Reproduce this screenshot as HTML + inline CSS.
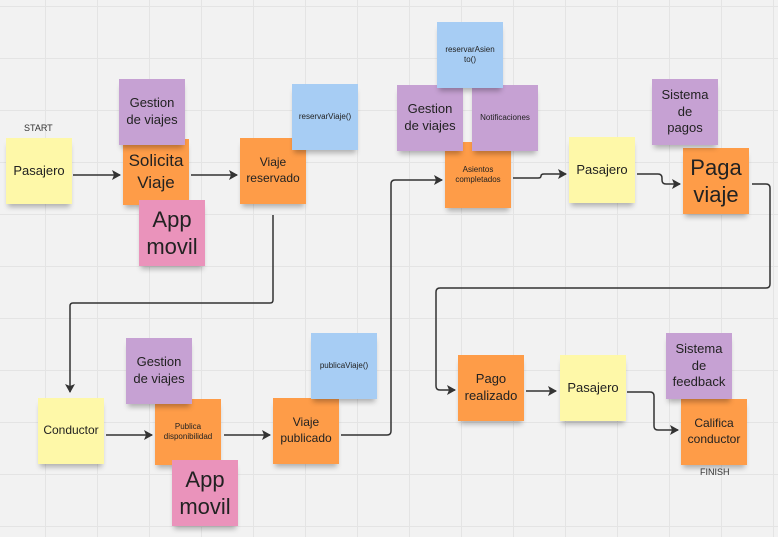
<!DOCTYPE html>
<html><head><meta charset="utf-8"><style>
html,body{margin:0;padding:0}
body{width:778px;height:537px;position:relative;overflow:hidden;background-color:#f2f2f2;
background-image:linear-gradient(#e4e4e4 1px,transparent 1px),linear-gradient(90deg,#e4e4e4 1px,transparent 1px);
background-size:52px 52px;background-position:45px 6px;font-family:"Liberation Sans",sans-serif;color:#222}
.n{position:absolute;width:66px;height:66px;display:flex;align-items:center;justify-content:center;text-align:center;box-shadow:0 5px 5px -2px rgba(0,0,0,0.28);line-height:1.3;font-size:12px}
.y{background:#fef8a8}.o{background:#fe9c48}.p{background:#c6a1d3}.k{background:#ea93bb}.b{background:#a7cdf4}
.s{font-size:8px}.xl{font-size:22px;line-height:1.25}.l{font-size:17px;line-height:1.3}.m{font-size:13px}
.t{position:absolute;font-size:9px;color:#333}
svg{position:absolute;left:0;top:0}
</style></head><body>
<svg width="778" height="537">
<defs><marker id="a" markerWidth="10" markerHeight="10" refX="8" refY="5" orient="auto" markerUnits="userSpaceOnUse"><path d="M0,0 L9,5 L0,10 L2,5 z" fill="#333"/></marker></defs>
<g fill="none" stroke="#333" stroke-width="1.5">
<path d="M73 175 H120" marker-end="url(#a)"/>
<path d="M191 175 H237" marker-end="url(#a)"/>
<path d="M273 215 V300 Q273 303 270 303 H73 Q70 303 70 306 V392" marker-end="url(#a)"/>
<path d="M106 435 H152" marker-end="url(#a)"/>
<path d="M224 435 H270" marker-end="url(#a)"/>
<path d="M341 435 H387 Q391 435 391 431 V184 Q391 180 395 180 H442" marker-end="url(#a)"/>
<path d="M513 178 H538 Q541 178 541 176 Q541 174 544 174 H566" marker-end="url(#a)"/>
<path d="M637 174 H658 Q662 174 662 178 V180 Q662 184 666 184 H680" marker-end="url(#a)"/>
<path d="M752 184 H766 Q770 184 770 188 V284 Q770 288 766 288 H440 Q436 288 436 292 V386 Q436 390 440 390 H455" marker-end="url(#a)"/>
<path d="M526 391 H556" marker-end="url(#a)"/>
<path d="M627 392 H650 Q654 392 654 396 V426 Q654 430 658 430 H678" marker-end="url(#a)"/>
</g></svg>
<div class="t" style="left:24px;top:123px">START</div>
<div class="t" style="left:700px;top:467px">FINISH</div>

<div class="n y m" style="left:6px;top:138px">Pasajero</div>
<div class="n o l" style="left:123px;top:139px">Solicita<br>Viaje</div>
<div class="n p m" style="left:119px;top:79px">Gestion<br>de viajes</div>
<div class="n k xl" style="left:139px;top:200px">App<br>movil</div>
<div class="n o" style="left:240px;top:138px">Viaje<br>reservado</div>
<div class="n b s" style="left:292px;top:84px">reservarViaje()</div>

<div class="n o s" style="left:445px;top:142px">Asientos<br>completados</div>
<div class="n p m" style="left:397px;top:85px">Gestion<br>de viajes</div>
<div class="n p s" style="left:472px;top:85px">Notificaciones</div>
<div class="n b s" style="left:437px;top:22px">reservarAsien<br>to()</div>
<div class="n y m" style="left:569px;top:137px">Pasajero</div>
<div class="n o xl" style="left:683px;top:148px">Paga<br>viaje</div>
<div class="n p m" style="left:652px;top:79px">Sistema<br>de<br>pagos</div>

<div class="n y" style="left:38px;top:398px">Conductor</div>
<div class="n o s" style="left:155px;top:399px">Publica<br>disponibilidad</div>
<div class="n p m" style="left:126px;top:338px">Gestion<br>de viajes</div>
<div class="n k xl" style="left:172px;top:460px">App<br>movil</div>
<div class="n o" style="left:273px;top:398px">Viaje<br>publicado</div>
<div class="n b s" style="left:311px;top:333px">publicaViaje()</div>

<div class="n o m" style="left:458px;top:355px">Pago<br>realizado</div>
<div class="n y m" style="left:560px;top:355px">Pasajero</div>
<div class="n o" style="left:681px;top:399px">Califica<br>conductor</div>
<div class="n p m" style="left:666px;top:333px">Sistema<br>de<br>feedback</div>
</body></html>
